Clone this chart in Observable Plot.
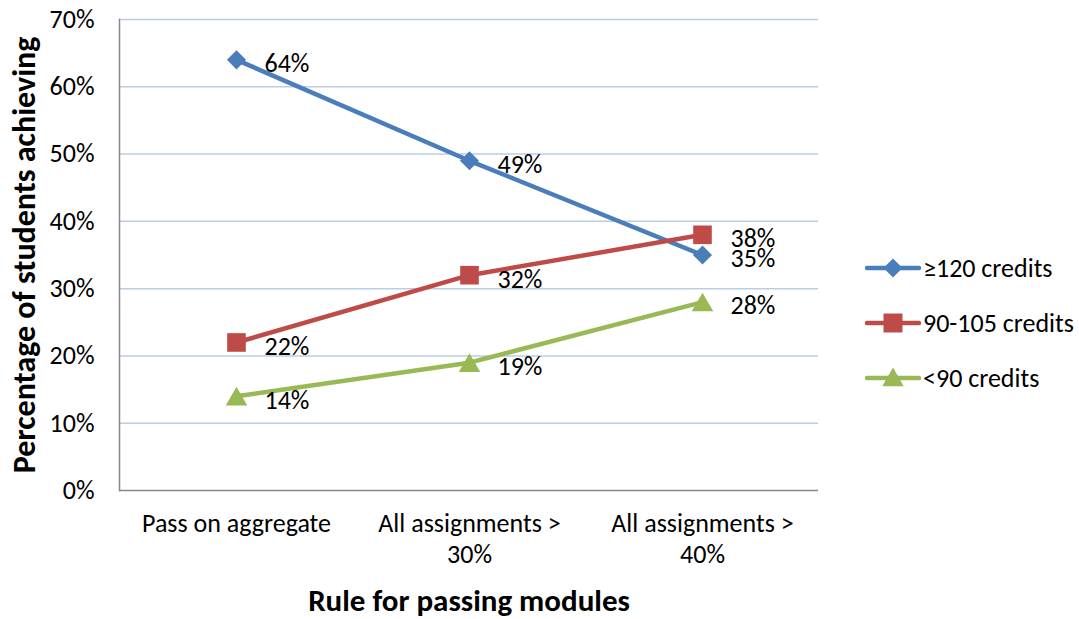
<!DOCTYPE html>
<html><head><meta charset="utf-8">
<script src="https://cdn.jsdelivr.net/npm/d3@7"></script>
<script src="https://cdn.jsdelivr.net/npm/@observablehq/plot@0.6"></script>
<style>
body{margin:0;background:#fff;}
#wrap{position:relative;width:1079px;height:619px;font-family:Carlito,Calibri,Lato,sans-serif;color:#000;}
#legend{position:absolute;left:865px;top:240px;}
.item{display:flex;align-items:center;height:55px;font-size:26px;}
.item svg{margin-right:2px;}
</style></head><body><div id="wrap"></div>
<script>
const categories = ["Pass on aggregate", "All assignments >\n30%", "All assignments >\n40%"];
const seriesNames = ["≥120 credits", "90-105 credits", "<90 credits"];
const credits120 = [0.64, 0.49, 0.35];
const credits90to105 = [0.22, 0.32, 0.38];
const creditsUnder90 = [0.14, 0.19, 0.28];
const seriesColors = ["#4a7ebb", "#be4b48", "#98b954"];
const seriesSymbols = ["diamond2", "square", "triangle"];
const yTicks = [0, 0.1, 0.2, 0.3, 0.4, 0.5, 0.6, 0.7];
const yTitle = "Percentage of students achieving";
const xTitle = "Rule for passing modules";

const seriesValues = [credits120, credits90to105, creditsUnder90];
const data = seriesNames.flatMap((s, si) => categories.map((c, ci) => ({series: s, cat: c, value: seriesValues[si][ci]})));
const font = "Carlito, Calibri, Lato, sans-serif";

const dotMarks = seriesNames.map((s, i) => Plot.dot(data.filter(d => d.series === s), {
  x: "cat", y: "value", symbol: () => seriesSymbols[i], fill: seriesColors[i], stroke: "none",
  r: i === 0 ? 8.6 : i === 1 ? 10.5 : 8, dy: i === 2 ? 3 : 0
}));

const chart = Plot.plot({
  width: 1079, height: 619,
  marginLeft: 119, marginRight: 261, marginTop: 19, marginBottom: 129,
  style: {fontFamily: font, background: "#fff", color: "#000"},
  x: {type: "point", domain: categories, padding: 0.5},
  y: {domain: [0, 0.7]},
  symbol: {type: "identity"},
  marks: [
    Plot.gridY(yTicks.filter(d => d > 0), {stroke: "#b9cde5", strokeOpacity: 1, strokeWidth: 1.5}),
    Plot.frame({anchor: "left", stroke: "#888", strokeWidth: 1.5}),
    Plot.ruleY([0], {stroke: "#888", strokeWidth: 1.5}),
    Plot.axisY(yTicks, {tickSize: 0, tickPadding: 25, tickFormat: d3.format(".0%"), fontSize: 26, label: null}),
    Plot.axisX({tickSize: 0, tickPadding: 20, fontSize: 26, lineHeight: 1.17, label: null, tickFormat: d => d}),
    Plot.line(data, {x: "cat", y: "value", z: "series", stroke: d => seriesColors[seriesNames.indexOf(d.series)], strokeWidth: 4.5}),
    ...dotMarks,
    Plot.text(data, {x: "cat", y: "value", text: d => d3.format(".0%")(d.value), textAnchor: "start", dx: 28, dy: 4, fontSize: 26, fill: "#000"}),
    Plot.text([yTitle], {frameAnchor: "left", textAnchor: "middle", lineAnchor: "middle", rotate: -90, dx: -95, fontSize: 32, fontWeight: "bold", fill: "#000"}),
    Plot.text([xTitle], {frameAnchor: "bottom", lineAnchor: "middle", dy: 111, fontSize: 31, fontWeight: "bold", fill: "#000"})
  ]
});
const wrap = document.getElementById("wrap");
wrap.appendChild(chart);

const legend = document.createElement("div");
legend.id = "legend";
seriesNames.forEach((s, i) => {
  const item = document.createElement("div");
  item.className = "item";
  const sym = d3.symbol(d3["symbol" + seriesSymbols[i].charAt(0).toUpperCase() + seriesSymbols[i].slice(1)], [230, 360, 200][i])();
  item.innerHTML = `<svg width="56" height="24"><line x1="2" x2="54" y1="12" y2="12" stroke="${seriesColors[i]}" stroke-width="4.5" stroke-linecap="round"/><path d="${sym}" transform="translate(28,${i === 2 ? 14 : 12})" fill="${seriesColors[i]}"/></svg><span>${s.replace("<", "&lt;")}</span>`;
  legend.appendChild(item);
});
wrap.appendChild(legend);
</script></body></html>
